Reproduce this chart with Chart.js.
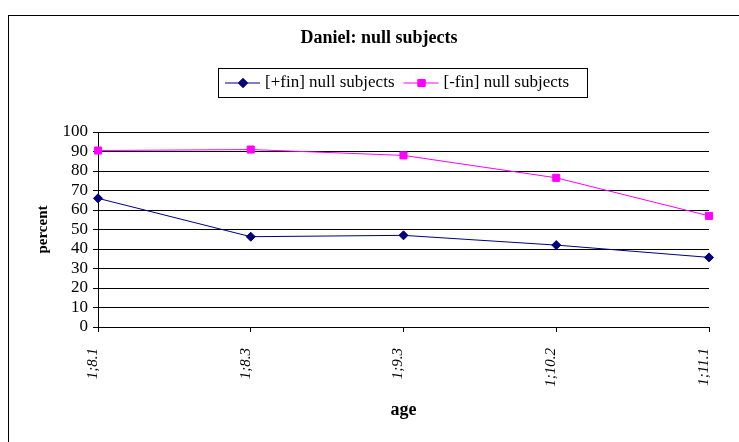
<!DOCTYPE html>
<html>
<head>
<meta charset="utf-8">
<script src="https://cdn.jsdelivr.net/npm/chart.js@4"></script>
<style>
html,body{margin:0;padding:0;background:#fff;overflow:hidden;}
#wrap{position:absolute;left:0;top:0;width:739px;height:442px;}
</style>
</head>
<body>
<div id="wrap"><canvas id="c" width="739" height="442"></canvas></div>
<script>
const chartTitle = "Daniel: null subjects";
const ages = ["1;8.1", "1;8.3", "1;9.3", "1;10.2", "1;11.1"];
const finNull = [66, 46.3, 47, 42, 35.7];
const nonFinNull = [90.5, 91, 88, 76.5, 57];
const seriesNames = ["[+fin] null subjects", "[-fin] null subjects"];
const yTicks = [0, 10, 20, 30, 40, 50, 60, 70, 80, 90, 100];
const SERIF = '"Liberation Serif", "DejaVu Serif", serif';

const framePlugin = {
  id: 'frame',
  beforeDraw(chart) {
    const ctx = chart.ctx;
    ctx.save();
    ctx.fillStyle = '#fff';
    ctx.fillRect(0, 0, chart.width, chart.height);
    ctx.strokeStyle = '#000';
    ctx.lineWidth = 1;
    ctx.strokeRect(8.5, 15.5, 800, 500);
    ctx.restore();
  },
  afterDraw(chart) {
    const ctx = chart.ctx;
    ctx.save();
    // title
    ctx.fillStyle = '#000';
    ctx.font = 'bold 18px ' + SERIF;
    ctx.textAlign = 'center';
    ctx.textBaseline = 'middle';
    ctx.fillText(chartTitle, 379, 38);
    // legend
    const bx = 218, by = 68, bw = 369, bh = 29;
    ctx.fillStyle = '#fff';
    ctx.fillRect(bx, by, bw, bh);
    ctx.strokeStyle = '#000';
    ctx.lineWidth = 1;
    ctx.strokeRect(bx + 0.5, by + 0.5, bw, bh);
    ctx.font = '17px ' + SERIF;
    ctx.textAlign = 'left';
    let x = bx + 7;
    const cy = by + bh / 2;
    chart.data.datasets.forEach((ds, i) => {
      ctx.strokeStyle = ds.borderColor;
      ctx.lineWidth = 1;
      ctx.beginPath();
      ctx.moveTo(x, cy + 0.5);
      ctx.lineTo(x + 35, cy + 0.5);
      ctx.stroke();
      Chart.helpers.drawPoint(ctx, {pointStyle: ds.pointStyle, radius: ds.pointRadius, borderWidth: 1, rotation: 0}, x + 18, cy + 0.5);
      ctx.fillStyle = ds.pointBackgroundColor;
      ctx.strokeStyle = ds.pointBorderColor;
      ctx.fill();
      ctx.stroke();
      ctx.fillStyle = '#000';
      ctx.fillText(ds.label, x + 40, cy);
      x += 40 + ctx.measureText(ds.label).width + 9;
    });
    ctx.restore();
  }
};

new Chart(document.getElementById('c'), {
  type: 'line',
  data: {
    labels: ages,
    datasets: [
      {
        label: seriesNames[0], data: finNull,
        borderColor: '#000080', backgroundColor: '#000080',
        pointBackgroundColor: '#000080', pointBorderColor: '#000080',
        pointStyle: 'rectRot', pointRadius: 4.5, borderWidth: 1, tension: 0
      },
      {
        label: seriesNames[1], data: nonFinNull,
        borderColor: '#FF00FF', backgroundColor: '#FF00FF',
        pointBackgroundColor: '#FF00FF', pointBorderColor: '#FF00FF',
        pointStyle: 'rect', pointRadius: 5, borderWidth: 1, tension: 0
      }
    ]
  },
  options: {
    responsive: false,
    animation: false,
    layout: { padding: { left: 30, right: 30, top: 132, bottom: 17 } },
    plugins: { legend: { display: false }, title: { display: false }, tooltip: { enabled: false } },
    scales: {
      x: {
        offset: false,
        grid: { display: true, drawOnChartArea: false, drawTicks: true, tickLength: 5, color: '#000' },
        border: { color: '#000', width: 1 },
        ticks: {
          color: '#000', font: { family: SERIF, size: 15, style: 'italic' },
          maxRotation: 90, minRotation: 90, padding: 16, autoSkip: false, labelOffset: -5
        },
        title: { display: true, text: 'age', color: '#000', font: { family: SERIF, size: 18, weight: 'bold' } },
        afterFit(s) { s.height = 442 - 17 - 327; s.paddingLeft = 0; s.paddingRight = 0; }
      },
      y: {
        min: 0, max: 100,
        afterBuildTicks(s) { s.ticks = yTicks.map(v => ({ value: v })); },
        grid: { color: '#000', lineWidth: 1, tickLength: 5 },
        border: { color: '#000', width: 1 },
        ticks: { color: '#000', font: { family: SERIF, size: 17 }, padding: 5, autoSkip: false },
        title: { display: true, text: 'percent', color: '#000', font: { family: SERIF, size: 15, weight: 'bold' } },
        afterFit(s) { s.width = 98 - 30; s.paddingTop = 0; s.paddingBottom = 0; }
      }
    }
  },
  plugins: [framePlugin]
});
</script>
</body>
</html>
